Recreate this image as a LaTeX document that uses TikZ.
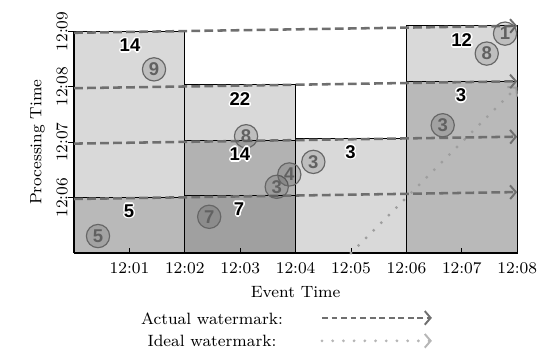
\documentclass[tikz,border=0pt]{standalone}
\usepackage{fontspec}
\newfontfamily\numfont{Liberation Sans}
\usetikzlibrary{arrows.meta}
\definecolor{lightpane}{HTML}{D9D9D9}
\definecolor{midpane}{HTML}{B9B9B9}
\definecolor{darkpane}{HTML}{A0A0A0}
\definecolor{wmdash}{HTML}{6F6F6F}
\definecolor{wmdot}{HTML}{9E9E9E}
\newcommand\halonum[3]{%
  \foreach \ang in {0,45,...,315}{\node[numtxt,text=white,shift={(\ang:0.8pt)}] at (#1) {#3};}
  \node[numtxt] (#2) at (#1) {#3};}
\begin{document}
\begin{tikzpicture}[x=1cm,y=1cm,
  pane/.style={draw=black,line width=0.5pt},
  axisline/.style={draw=black,line width=1.1pt},
  tick/.style={draw=black,line width=0.5pt},
  lbl/.style={font=\fontsize{8.4}{10}\selectfont,inner sep=1pt},
  actual/.style={draw=wmdash,line width=1.3pt,dash pattern=on 4.5pt off 2.2pt,
    -{Straight Barb[length=3pt,width=7pt,line width=1pt]}},
  legactual/.style={draw=wmdash,line width=1.1pt,dash pattern=on 3pt off 1.9pt,
    -{Straight Barb[length=3pt,width=7pt,line width=1pt]}},
  ideal/.style={draw=wmdot,line width=1.6pt,line cap=round,dash pattern=on 0pt off 5.5pt,
    -{Straight Barb[length=3pt,width=7pt,line width=1pt]}},
  legideal/.style={ideal,draw=wmdot!75!white},
  numtxt/.style={font=\numfont\bfseries\fontsize{9.5}{10}\selectfont,inner sep=0pt,text=black},
  elem/.style={circle,minimum size=0.42cm,inner sep=0pt,draw=black!60,line width=0.6pt,
    fill=black,fill opacity=0.12,text opacity=1,text=black!62,
    font=\numfont\bfseries\fontsize{9.5}{10}\selectfont}]
\useasboundingbox (-1.336,-1.967) rectangle (8.592,4.567);
% panes
\draw[pane,fill=midpane] (0,0) rectangle (2,1.006);
\draw[pane,fill=lightpane] (0,1.006) rectangle (2,4.006);
\draw[pane,fill=darkpane] (2,0) rectangle (4,1.0375);
\draw[pane,fill=midpane!96!black] (2,1.0375) rectangle (4,2.0375);
\draw[pane,fill=lightpane] (2,2.0375) rectangle (4,3.0375);
\draw[pane,fill=lightpane] (4,0) rectangle (6,2.069);
\draw[pane,fill=midpane] (6,0) rectangle (8,3.1);
\draw[pane,fill=lightpane] (6,3.1) rectangle (8,4.1);
% axes
\coordinate (o) at (0,0);
\coordinate (xe) at (8,0);
\coordinate (ye) at (0,4);
\draw[axisline] (o) -- (xe);
\draw[line width=0.9pt] (o) -- (ye);
\foreach \i/\t in {1/12:01,2/12:02,3/12:03,4/12:04,5/12:05,6/12:06,7/12:07,8/12:08}{
  \draw[tick] (\i,0) -- (\i,0.09);
  \node[lbl] (xl\i) at (\i,-0.27) {\t};}
\foreach \i/\t in {1/12:06,2/12:07,3/12:08,4/12:09}{
  \draw[tick] (0,\i) -- (-0.1,\i);
  \node[lbl,rotate=90] (yl\i) at (-0.217,\i) {\t};}
\node[lbl] (xtitle) at (4,-0.70) {Event Time};
\node[lbl,rotate=90] (ytitle) at (-0.66,2.0) {Processing Time};
% ideal watermark
\coordinate (i0) at (5,0);
\coordinate (i1) at (8,3);
\draw[ideal] (i0) -- (i1);
% actual watermark lines
\foreach \k in {1,2,3,4}{
  \coordinate (a\k) at (0,\k-0.025);
  \coordinate (b\k) at (8,\k+0.1);
  \draw[actual] (a\k) -- (b\k);}
% elements
\node[elem] (e9) at (1.444,3.315) {9};
\node[elem] (e5) at (0.433,0.306) {5};
\node[elem] (e7) at (2.44,0.654) {7};
\node[elem] (e8a) at (3.105,2.108) {8};
\node[elem] (e3a) at (3.659,1.195) {3};
\node[elem] (e4) at (3.886,1.418) {4};
\node[elem] (e3b) at (4.32,1.645) {3};
\node[elem] (e3c) at (6.655,2.306) {3};
\node[elem] (e8b) at (7.45,3.6) {8};
\node[elem] (e1) at (7.78,3.96) {1};
% pane sums
\halonum{1.011,3.748}{s14a}{14}
\halonum{2.996,2.775}{s22}{22}
\halonum{2.996,1.784}{s14b}{14}
\halonum{0.993,0.757}{s5}{5}
\halonum{2.98,0.793}{s7}{7}
\halonum{4.99,1.825}{s3a}{3}
\halonum{6.985,2.847}{s3b}{3}
\halonum{6.998,3.838}{s12}{12}
% legend
\node[lbl] (lact) at (2.49,-1.19) {Actual watermark:};
\node[lbl] (lide) at (2.49,-1.585) {Ideal watermark:};
\coordinate (la0) at (4.476,-1.171);
\coordinate (la1) at (6.46,-1.171);
\coordinate (li0) at (4.476,-1.585);
\coordinate (li1) at (6.46,-1.585);
\draw[legactual] (la0) -- (la1);
\draw[legideal] (li0) -- (li1);
\end{tikzpicture}
\end{document}
